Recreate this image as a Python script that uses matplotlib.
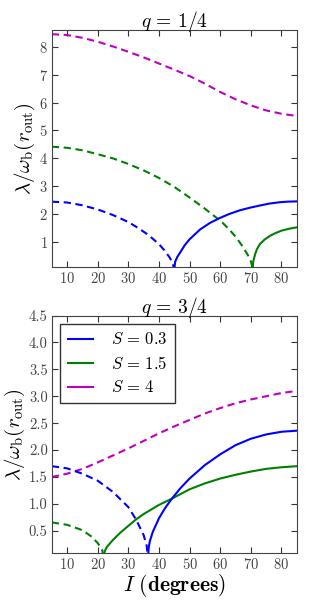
"""
Growth rate vs inclination for two mass ratios (q = 1/4, 3/4).
Dashed = stable branch, solid = unstable branch.
"""
import matplotlib
matplotlib.use("Agg")
import matplotlib.pyplot as plt

plt.rcParams["font.family"] = "serif"
plt.rcParams["font.serif"] = ["cmr10", "DejaVu Serif"]
plt.rcParams["mathtext.fontset"] = "cm"
plt.rcParams["axes.formatter.use_mathtext"] = True

BLUE = "#0000ff"
GREEN = "#008000"
MAGENTA = "#bf00bf"

# ----------------------------------------------------------------------
# data  (I in degrees, lambda / omega_b(r_out))
# ----------------------------------------------------------------------
# q = 1/4
q1_mag_I = [5, 10, 15, 20, 25, 30, 35, 40, 45, 50, 55, 60, 65, 70, 75, 80, 85]
q1_mag_dash = [8.45, 8.42, 8.32, 8.18, 8.01, 7.82, 7.62, 7.40, 7.18, 6.95,
               6.68, 6.38, 6.12, 5.90, 5.72, 5.60, 5.52]

q1_grn_dash_I = [5, 10, 15, 20, 25, 30, 35, 40, 45, 50, 55, 58, 60, 63, 65,
                 67, 69, 70, 70.4, 70.6]
q1_grn_dash = [4.42, 4.38, 4.29, 4.15, 4.00, 3.80, 3.57, 3.30, 2.98, 2.60,
               2.20, 1.94, 1.78, 1.45, 1.20, 0.90, 0.55, 0.32, 0.18, 0.0]
q1_grn_sol_I = [70.6, 70.8, 71.4, 72.0, 72.9, 74.5, 76.2, 78.0, 80.0, 82.5, 85.0]
q1_grn_sol = [0.0, 0.30, 0.56, 0.74, 0.92, 1.09, 1.22, 1.32, 1.41, 1.48, 1.53]

q1_blu_dash_I = [5, 10, 15, 20, 25, 30, 33, 36, 38, 40, 42, 43.5, 44.5, 45.0]
q1_blu_dash = [2.45, 2.42, 2.32, 2.17, 1.97, 1.72, 1.52, 1.30, 1.12, 0.93,
               0.68, 0.45, 0.25, 0.0]
q1_blu_sol_I = [45.0, 45.3, 46.0, 47.0, 48.5, 50.0, 53.4, 56.7, 60.0, 63.0,
                66.4, 70.0, 72.9, 76.0, 79.5, 82.0, 85.0]
q1_blu_sol = [0.0, 0.30, 0.47, 0.64, 0.90, 1.10, 1.45, 1.69, 1.87, 2.01,
              2.14, 2.24, 2.31, 2.38, 2.43, 2.45, 2.46]

# q = 3/4
q3_mag_I = [5, 10, 15, 20, 25, 30, 35, 40, 45, 50, 55, 60, 65, 70, 75, 80, 85]
q3_mag_dash = [1.50, 1.56, 1.65, 1.77, 1.90, 2.03, 2.17, 2.31, 2.44, 2.56,
               2.68, 2.78, 2.87, 2.94, 3.00, 3.06, 3.10]

q3_grn_dash_I = [5, 10, 15, 18, 20, 21.0, 21.5, 21.9]
q3_grn_dash = [0.655, 0.61, 0.51, 0.39, 0.27, 0.19, 0.13, 0.0]
q3_grn_sol_I = [21.9, 22.3, 23.0, 25.0, 27.5, 30.0, 32.5, 35.0, 40.0, 44.0,
                50.0, 55.0, 60.0, 65.0, 70.0, 75.0, 80.0, 85.0]
q3_grn_sol = [0.0, 0.12, 0.20, 0.33, 0.47, 0.59, 0.71, 0.81, 0.98, 1.09,
              1.27, 1.38, 1.47, 1.54, 1.60, 1.65, 1.68, 1.70]

q3_blu_dash_I = [5, 10, 15, 20, 25, 30, 32.5, 35, 36.0, 36.4]
q3_blu_dash = [1.70, 1.66, 1.56, 1.43, 1.22, 0.94, 0.71, 0.42, 0.22, 0.0]
q3_blu_sol_I = [36.4, 36.7, 37.0, 38.0, 40.0, 42.0, 44.0, 47.0, 50.0, 55.0,
                60.0, 65.0, 70.0, 75.0, 80.0, 85.0]
q3_blu_sol = [0.0, 0.20, 0.30, 0.48, 0.73, 0.92, 1.08, 1.29, 1.47, 1.72,
              1.92, 2.09, 2.21, 2.29, 2.34, 2.36]

S_labels = [r"$S\,=\,0.3$", r"$S\,=\,1.5$", r"$S\,=\,4$"]

LW = 1.5
DASH = (0, (3.5, 2.2))


def _panel(ax, title, curves):
    for I, y, color, ls in curves:
        ax.plot(I, y, color=color, lw=LW, linestyle=ls)
    ax.set_xlim(5, 85)
    ax.set_xticks(range(10, 90, 10))
    ax.tick_params(direction="in", top=True, right=True, length=4,
                   labelsize=10.5, colors="#333333", labelcolor="#444444",
                   pad=3)
    for sp in ax.spines.values():
        sp.set_color("#444444")
    ax.set_title(title, fontsize=14, pad=2)
    ax.set_ylabel(r"$\lambda/\omega_{\rm b}(r_{\rm out})$", fontsize=15,
                  labelpad=1)


fig = plt.figure(figsize=(3.3, 6.0), dpi=100)
ax1 = fig.add_axes([0.157, 0.5555, 0.742, 0.3945])
ax2 = fig.add_axes([0.157, 0.0778, 0.742, 0.3962])

_panel(ax1, r"$q\,=\,1/4$", [
    (q1_mag_I, q1_mag_dash, MAGENTA, DASH),
    (q1_grn_dash_I, q1_grn_dash, GREEN, DASH),
    (q1_grn_sol_I, q1_grn_sol, GREEN, "-"),
    (q1_blu_dash_I, q1_blu_dash, BLUE, DASH),
    (q1_blu_sol_I, q1_blu_sol, BLUE, "-"),
])
ax1.set_ylim(0.12, 8.6)
ax1.set_yticks(range(1, 9))

_panel(ax2, r"$q\,=\,3/4$", [
    (q3_mag_I, q3_mag_dash, MAGENTA, DASH),
    (q3_grn_dash_I, q3_grn_dash, GREEN, DASH),
    (q3_grn_sol_I, q3_grn_sol, GREEN, "-"),
    (q3_blu_dash_I, q3_blu_dash, BLUE, DASH),
    (q3_blu_sol_I, q3_blu_sol, BLUE, "-"),
])
ax2.set_ylim(0.08, 4.5)
ax2.set_yticks([0.5, 1.0, 1.5, 2.0, 2.5, 3.0, 3.5, 4.0, 4.5])
ax2.set_yticklabels([f"{v:.1f}" for v in ax2.get_yticks()])
ax2.set_xlabel(r"$I\ \mathbf{(degrees)}$", fontsize=15.5, labelpad=0)

# legend uses plain solid handles
handles = [plt.Line2D([], [], color=c, lw=LW) for c in (BLUE, GREEN, MAGENTA)]
leg = ax2.legend(handles, S_labels, loc="upper left", fontsize=12,
                 fancybox=False, framealpha=1, edgecolor="#333333",
                 handlelength=1.5, handletextpad=1.1, labelspacing=0.45,
                 borderpad=0.45, borderaxespad=0.5)
leg.get_frame().set_linewidth(1.0)

fig.savefig("out.png", dpi=100)
plt.close(fig)
